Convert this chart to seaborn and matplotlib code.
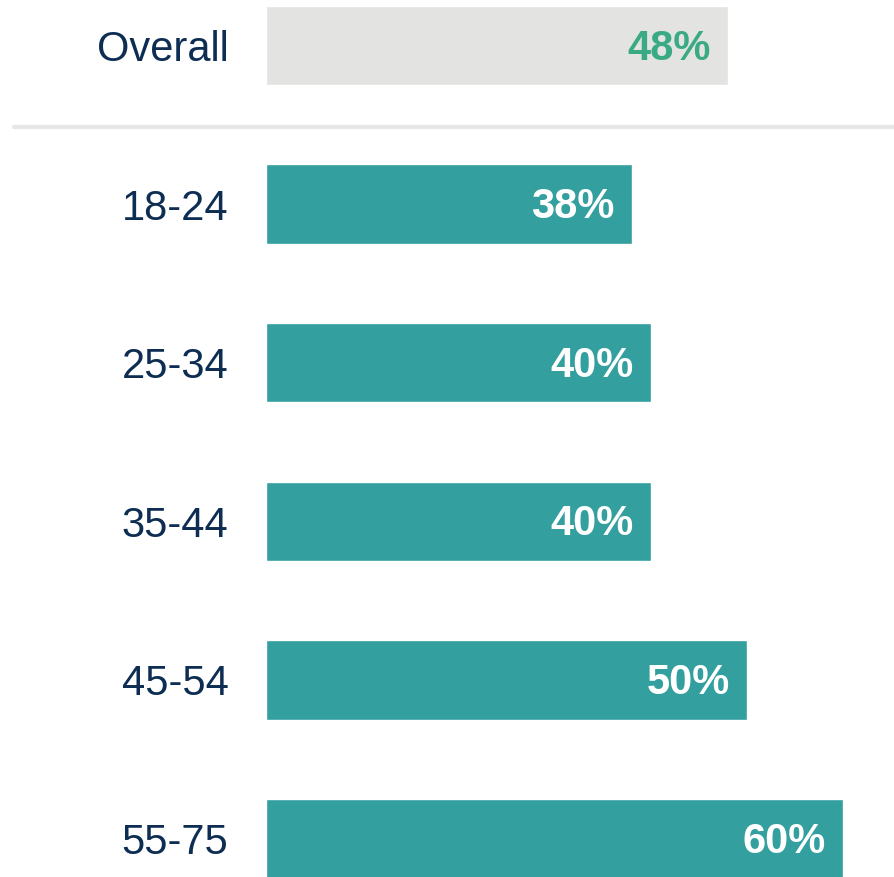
import matplotlib
matplotlib.use("Agg")
import matplotlib.pyplot as plt
import seaborn as sns
import pandas as pd
from matplotlib.lines import Line2D

# --- data ---
groups = ['Overall', '18-24', '25-34', '35-44', '45-54', '55-75']
values = [48, 38, 40, 40, 50, 60]
bar_colors = ['#e3e3e1', '#339f9f', '#339f9f', '#339f9f', '#339f9f', '#339f9f']
text_colors = ['#3aaa85', 'white', 'white', 'white', 'white', 'white']

df = pd.DataFrame({'Group': groups, 'Value': values})

sns.set_style("white")
plt.rcParams['font.family'] = ['Liberation Sans', 'DejaVu Sans']

fig = plt.figure(figsize=(8.95, 8.77), dpi=100)
ax = fig.add_axes([266 / 895, 0, 1 - 266 / 895, 1])

sns.barplot(data=df, y='Group', x='Value', hue='Group', palette=bar_colors,
            order=groups, hue_order=groups, width=0.5, legend=False,
            saturation=1, ax=ax)

ax.set_xlim(0, (895 - 266) / 9.62)
ax.set_ylim(5.243, -0.287)

for i, (v, c) in enumerate(zip(values, text_colors)):
    ax.text(v - 1.8, i + 0.02, f'{v}%', ha='right', va='center',
            color=c, fontsize=30, fontweight='bold')

ax.set_xlabel('')
ax.set_ylabel('')
ax.set_xticks([])
ax.tick_params(axis='y', length=0, pad=27, labelsize=30, labelcolor='#0d2d52')
sns.despine(ax=ax, left=True, bottom=True, top=True, right=True)

# separator line under "Overall"
fig.add_artist(Line2D([14 / 895, 1], [1 - 127 / 877, 1 - 127 / 877],
                      color='#e6e6e6', linewidth=3, transform=fig.transFigure))

plt.savefig('out.png', dpi=100)
